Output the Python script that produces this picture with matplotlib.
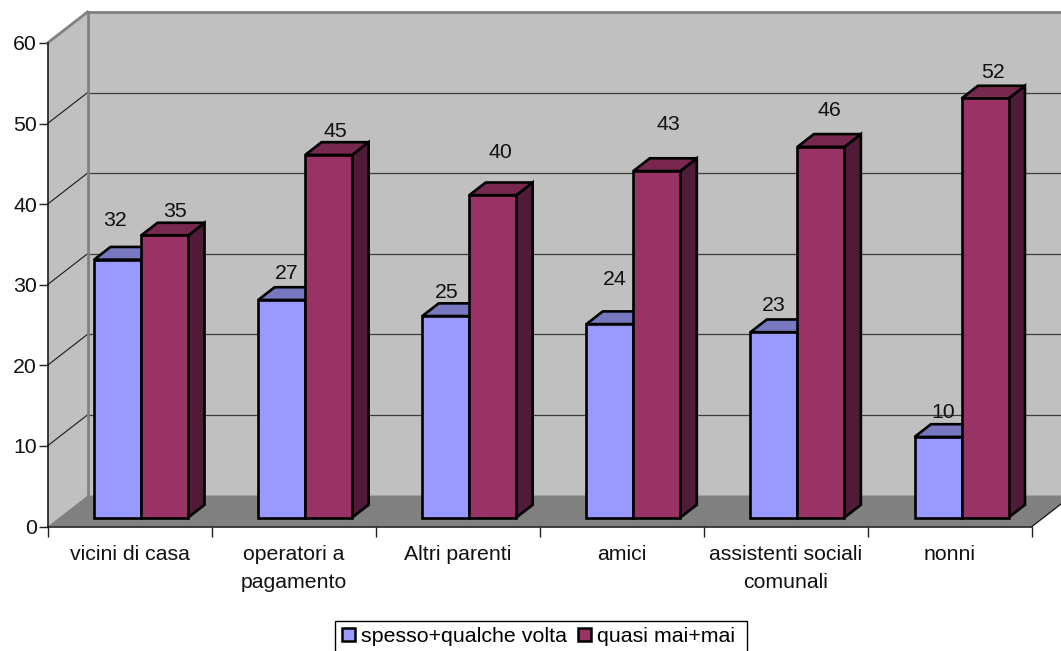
import matplotlib
matplotlib.use("Agg")
import matplotlib.pyplot as plt
from matplotlib.patches import Polygon, Patch, Rectangle

plt.rcParams['font.family'] = ['Liberation Sans', 'DejaVu Sans']

categories = ['vicini di casa', 'operatori a\npagamento', 'Altri parenti', 'amici',
              'assistenti sociali\ncomunali', 'nonni']
spesso = [32, 27, 25, 24, 23, 10]
quasi_mai = [35, 45, 40, 43, 46, 52]
series_names = ['spesso+qualche volta', 'quasi mai+mai']
y_ticks = [0, 10, 20, 30, 40, 50, 60]

# Data-label nudges in pixels, relative to the top centre of each column face
spesso_nudge = [(-2.5, 39), (5, 26), (1, 24), (5, 45), (0, 27), (5.5, 24)]
quasi_nudge = [(10.5, 24), (7, 23), (8, 42.5), (11, 47), (8, 36), (8, 26)]

W, H = 1061, 651
LEFT, RIGHT, BOTTOM, TOP = 47.5, 1032.0, 526.5, 43.0
FONT = 15.3
fig = plt.figure(figsize=(W / 100, H / 100), dpi=100, facecolor='white')
ax = fig.add_axes([LEFT / W, 1 - BOTTOM / H, (RIGHT - LEFT) / W, (BOTTOM - TOP) / H])
ax.set_xlim(0, len(categories))
ax.set_ylim(0, 60)
ax.patch.set_visible(False)

# Oblique projection: depth 1 is the back wall, in category and value units
DEPTH_X = 40 / ((RIGHT - LEFT) / len(categories))
DEPTH_Y = 31 / ((BOTTOM - TOP) / 60)


def proj(x, y, d=0.0):
    return (x + d * DEPTH_X, y + d * DEPTH_Y)


def face(points, color, edge='none', lw=0.0, z=1):
    ax.add_patch(Polygon(points, closed=True, facecolor=color, edgecolor=edge,
                         linewidth=lw, clip_on=False, zorder=z, joinstyle='miter'))


n = len(categories)
# Walls and floor
face([proj(0, 0), proj(0, 60), proj(0, 60, 1), proj(0, 0, 1)], '#C0C0C0', z=1)
face([proj(0, 0, 1), proj(0, 60, 1), proj(n, 60, 1), proj(n, 0, 1)], '#C0C0C0', z=1)
face([proj(0, 0), proj(n, 0), proj(n, 0, 1), proj(0, 0, 1)], '#808080', z=1.5)

# Gridlines across side and back walls
for v in y_ticks[1:-1]:
    ax.plot(*zip(proj(0, v), proj(0, v, 1)), color='#1a1a1a', lw=0.8, clip_on=False, zorder=2)
    ax.plot(*zip(proj(0, v, 1), proj(n, v, 1)), color='#3c3c3c', lw=0.9, clip_on=False, zorder=2)

# Heavy grey wall outline
for a, b in [(proj(0, 60), proj(0, 60, 1)), (proj(0, 60, 1), proj(n, 60, 1)),
             (proj(0, 0, 1), proj(0, 60, 1))]:
    ax.plot(*zip(a, b), color='#808080', lw=2.0, clip_on=False, zorder=2.5)
ax.plot(*zip(proj(n, 0), proj(n, 0, 1)), color='#111111', lw=0.9, clip_on=False, zorder=2.5)

# Columns
BAR_W = 47 / ((RIGHT - LEFT) / n)
GAP = (1 - 2 * BAR_W) / 2
D0, D1 = 0.29, 0.70
EDGE = 1.9


def column(x0, value, front, top, side, z):
    x1 = x0 + BAR_W
    face([proj(x1, 0, D0), proj(x1, value, D0), proj(x1, value, D1), proj(x1, 0, D1)], side, 'black', EDGE, z)
    face([proj(x0, value, D0), proj(x1, value, D0), proj(x1, value, D1), proj(x0, value, D1)], top, 'black', EDGE, z)
    face([proj(x0, 0, D0), proj(x1, 0, D0), proj(x1, value, D0), proj(x0, value, D0)], front, 'black', EDGE, z + 0.1)


def value_label(x0, value, nudge):
    ax.annotate(str(value), xy=proj(x0 + BAR_W / 2, value, D0), xytext=nudge,
                textcoords='offset pixels', ha='center', va='center',
                fontsize=FONT, color='#111111', zorder=20, annotation_clip=False)


for i in range(n):
    xa = i + GAP
    xb = xa + BAR_W
    column(xa, spesso[i], '#9999FF', '#7878C0', '#4A4A80', 5 + i)
    column(xb, quasi_mai[i], '#993366', '#78284F', '#4F1B38', 5.5 + i)
    value_label(xa, spesso[i], spesso_nudge[i])
    value_label(xb, quasi_mai[i], quasi_nudge[i])

# Axes
for s in ('top', 'right'):
    ax.spines[s].set_visible(False)
for s in ('left', 'bottom'):
    ax.spines[s].set_color('#111111')
    ax.spines[s].set_linewidth(1.1)
    ax.spines[s].set_zorder(3)
ax.set_yticks(y_ticks)
ax.set_yticklabels([str(v) for v in y_ticks])
ax.tick_params(axis='y', length=6.5, width=1.0, color='#222222', pad=1.2, labelsize=FONT, labelcolor='#111111')
ax.set_xticks(range(n + 1))
ax.set_xticklabels([])
ax.tick_params(axis='x', which='major', length=7.5, width=1.0, color='#222222')
ax.set_xticks([i + 0.5 for i in range(n)], minor=True)
ax.set_xticklabels(categories, minor=True)
ax.tick_params(axis='x', which='minor', length=0, pad=13.5, labelsize=FONT, labelcolor='#111111')
for t in ax.get_xticklabels(minor=True):
    t.set_linespacing(1.55)

# Legend: entries without a frame, boxed separately so the padding can differ per side
handles = [Patch(facecolor='#9999FF', edgecolor='black', linewidth=1.8, label=series_names[0]),
           Patch(facecolor='#993366', edgecolor='black', linewidth=1.8, label=series_names[1])]
fig.legend(handles=handles, loc='center', bbox_to_anchor=(538.5 / W, 1 - 636.5 / H),
           ncol=2, fontsize=15.4, frameon=False,
           handlelength=0.62, handleheight=0.62, handletextpad=0.28,
           columnspacing=0.5, borderpad=0.42, borderaxespad=0)
# The box runs past the lower edge of the figure, so only three sides show
fig.add_artist(Rectangle((334.5 / W, -0.02), 412.5 / W, 1.02 - 620.5 / H, transform=fig.transFigure,
                         facecolor='none', edgecolor='black', linewidth=1.0, clip_on=False))

fig.savefig('out.png', dpi=100, facecolor='white')
